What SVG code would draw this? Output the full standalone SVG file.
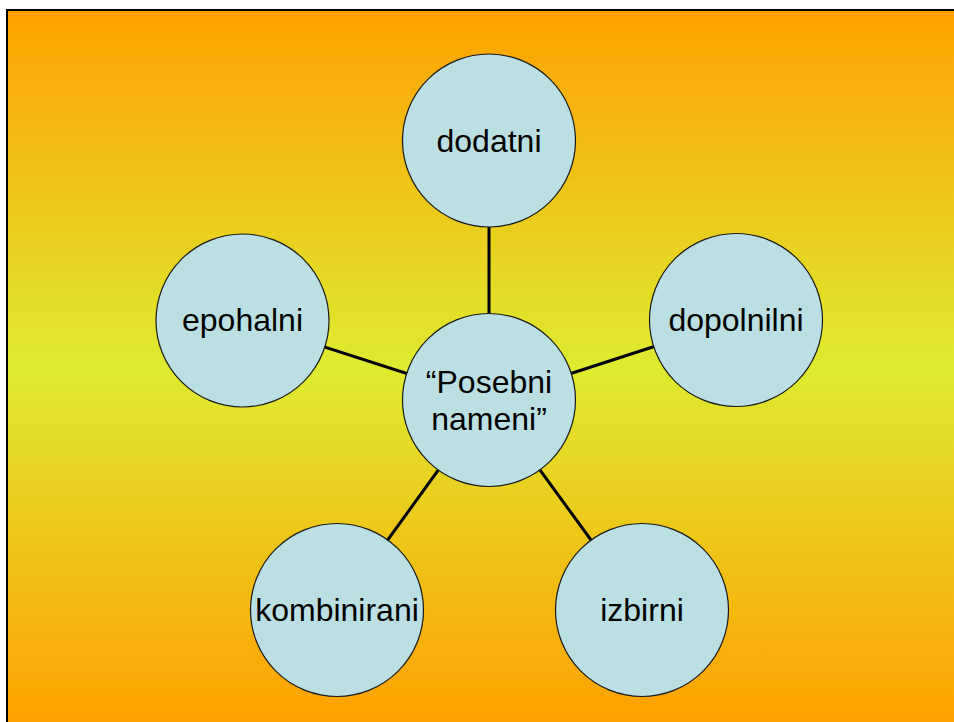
<svg xmlns="http://www.w3.org/2000/svg" width="954" height="722" viewBox="0 0 954 722">
  <defs>
    <linearGradient id="bg" gradientUnits="userSpaceOnUse" x1="0" y1="11" x2="0" y2="722">
      <stop offset="0" stop-color="#FFA000"/>
      <stop offset="0.5" stop-color="#DEEB2F"/>
      <stop offset="1" stop-color="#FFA000"/>
    </linearGradient>
    <style>
      .node circle { fill: #BAE0E3; stroke: #1a1a1a; stroke-width: 1.2; }
      .node text { font-family: "Liberation Sans", Arial, sans-serif; font-size: 32px; fill: #000; text-anchor: middle; }
      .conn line { stroke: #000; stroke-width: 3; }
    </style>
  </defs>
  <rect x="0" y="0" width="954" height="722" fill="#FFFFFF"/>
  <rect x="7" y="10" width="960" height="730" fill="url(#bg)" stroke="#000" stroke-width="2"/>
  <g id="connectors" class="conn">
    <line x1="489" y1="400" x2="489" y2="140.5"/>
    <line x1="489" y1="400" x2="736" y2="320"/>
    <line x1="489" y1="400" x2="242.5" y2="320.5"/>
    <line x1="489" y1="400" x2="337" y2="610"/>
    <line x1="489" y1="400" x2="642" y2="610"/>
  </g>
  <g id="node-center" class="node">
    <circle cx="489" cy="400" r="86.5"/>
    <text x="489" y="393">“Posebni</text>
    <text x="489" y="430">nameni”</text>
  </g>
  <g id="node-dodatni" class="node">
    <circle cx="489" cy="140.5" r="86.5"/>
    <text x="489" y="151.5">dodatni</text>
  </g>
  <g id="node-dopolnilni" class="node">
    <circle cx="736" cy="320" r="86.5"/>
    <text x="736" y="331">dopolnilni</text>
  </g>
  <g id="node-epohalni" class="node">
    <circle cx="242.5" cy="320.5" r="86.5"/>
    <text x="242.5" y="331">epohalni</text>
  </g>
  <g id="node-kombinirani" class="node">
    <circle cx="337" cy="610" r="86.5"/>
    <text x="337" y="621">kombinirani</text>
  </g>
  <g id="node-izbirni" class="node">
    <circle cx="642" cy="610" r="86.5"/>
    <text x="642" y="621">izbirni</text>
  </g>
</svg>
